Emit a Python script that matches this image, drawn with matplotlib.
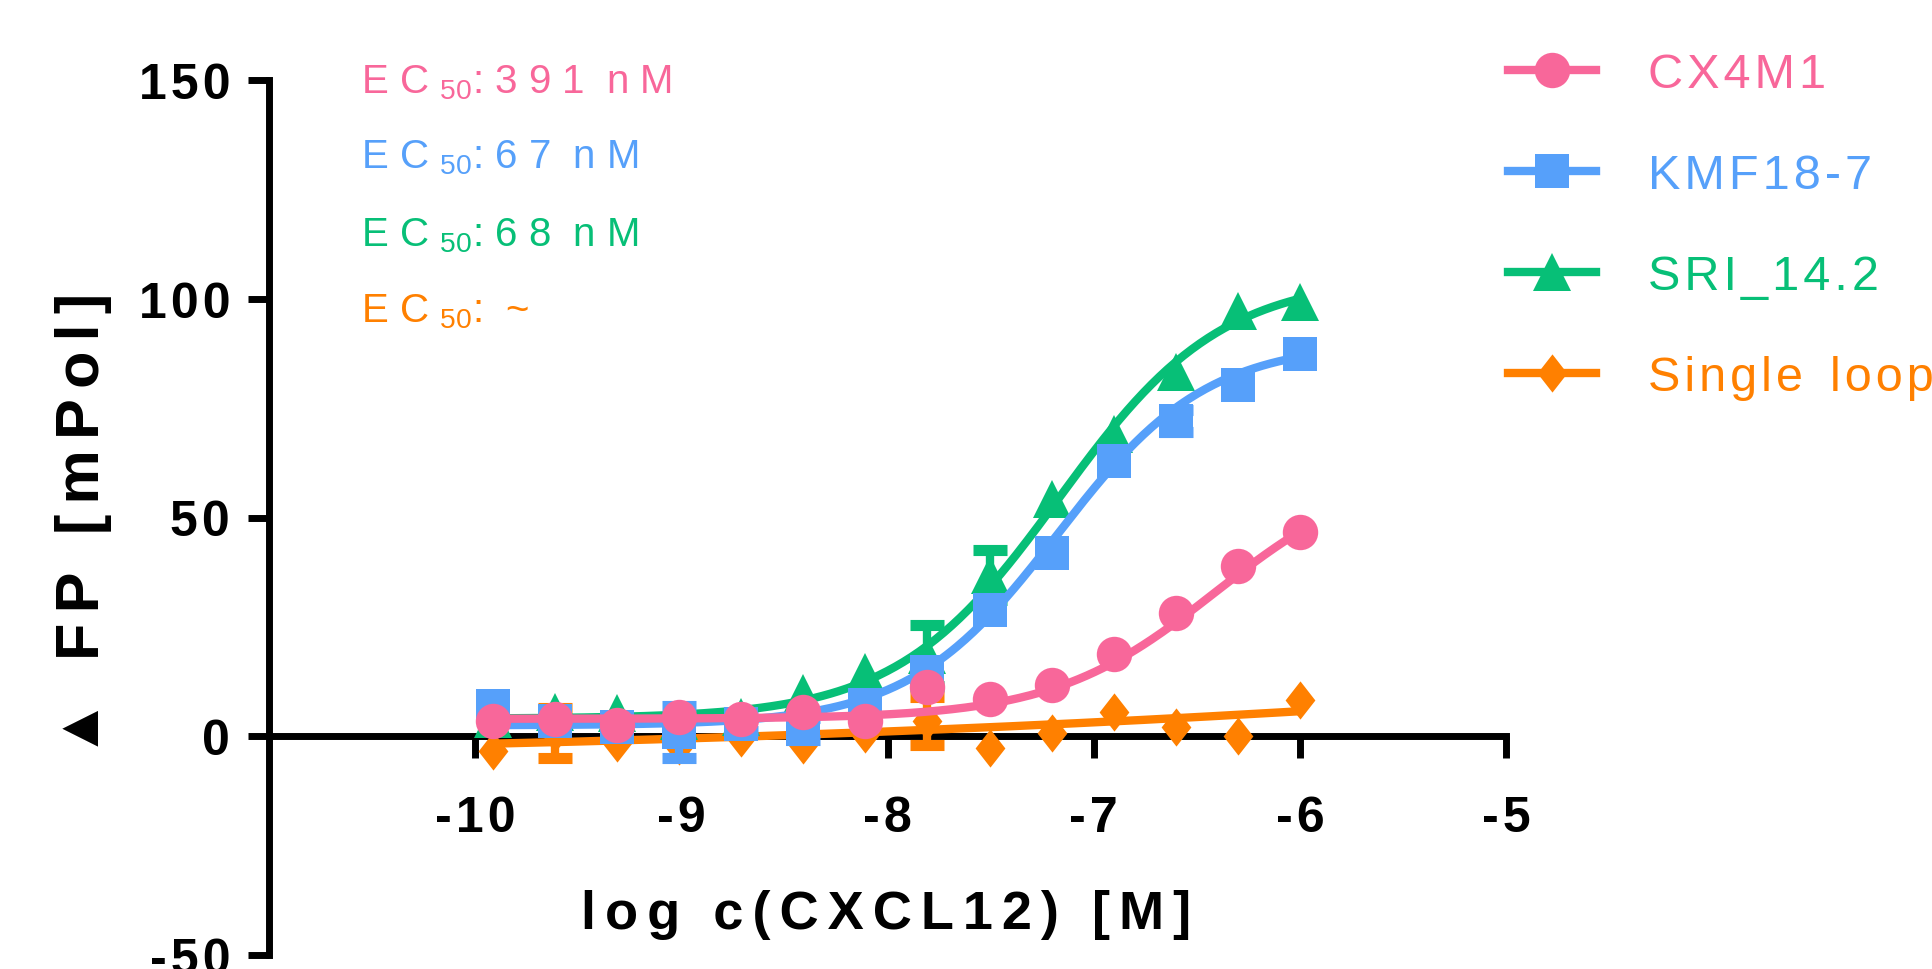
import matplotlib
matplotlib.use("Agg")
import matplotlib.pyplot as plt
import numpy as np


# 2-fold dilution series of CXCL12, log10 of molar concentration
log_conc = np.array([-9.913, -9.612, -9.311, -9.010, -8.709, -8.408, -8.107,
                     -7.806, -7.505, -7.204, -6.903, -6.602, -6.301, -6.000])

# delta FP [mPol], means
cx4m1 = np.array([3.5, 3.9, 2.5, 4.3, 4.0, 5.5, 3.4, 11.3, 8.5, 11.8, 18.7, 28.2, 38.9, 46.6])
kmf18_7 = np.array([7.0, 3.5, 2.1, 1.0, 2.8, 1.7, 7.1, 14.6, 28.9, 41.9, 63.0, 72.0, 80.3, 87.4])
sri_14_2 = np.array([4.0, 5.5, 5.3, 3.5, 4.5, 10.0, 14.6, 18.5, 36.8, 54.2, 69.1, 83.2, 97.3, 99.2])
single_loop = np.array([-3.4, 0.75, -1.5, -2.3, -0.5, -1.9, 0.5, 3.4, -2.7, 0.8, 5.6, 2.1, 0.0, 8.4])

# error bars (SD), only where they show up
cx4m1_err = np.zeros(14)
kmf18_7_err = np.array([0, 0, 0, 6.0, 1.5, 2.5, 0, 0, 0, 0, 0, 2.5, 0, 0])
sri_14_2_err = np.array([0, 0, 0, 0, 0, 0, 0, 7.0, 5.7, 0, 0, 0, 0, 0])
single_loop_err = np.array([0, 5.8, 0, 0, 0, 0, 0, 5.5, 0, 0, 0, 0, 0, 0])

# 4PL fit parameters: bottom, top, logEC50, hill slope
cx4m1_fit = (4.0, 62.0, np.log10(391e-9), 1.1)
kmf18_7_fit = (2.5, 90.0, np.log10(67e-9), 1.2)
sri_14_2_fit = (4.0, 105.0, np.log10(68e-9), 1.1)
single_loop_fit = (-5.2, 36.5, -3.0, 0.15)

names = ["CX4M1", "KMF18-7", "SRI_14.2", "Single loop"]
ec50_labels = ["3 9 1  n M", "6 7  n M", "6 8  n M", " ~"]
colors = ["#F8679A", "#56A0FA", "#07BF77", "#FF8000"]

x_ticks = [-10, -9, -8, -7, -6, -5]
x_tick_labels = ["-10", "-9", "-8", "-7", "-6", "-5"]
y_ticks = [-50, 0, 50, 100, 150]
y_tick_labels = ["-50", "0", "50", "100", "150"]


def four_pl(x, bottom, top, log_ec50, hill):
    return bottom + (top - bottom) / (1 + 10 ** ((log_ec50 - x) * hill))


# the original uses letter spaced text; hair spaces between letters
HS = "\u200a"
WORD = HS * 2 + " " + HS * 2


def spread(text, gap=HS, word_gap=" "):
    return word_gap.join(gap.join(word) for word in text.split(" "))


fonts = ["Liberation Sans", "DejaVu Sans"]
plt.rcParams["font.family"] = fonts
plt.rcParams["mathtext.fontset"] = "custom"
plt.rcParams["mathtext.rm"] = "Liberation Sans"

fig = plt.figure(figsize=(19.33, 9.70), dpi=100)
ax = fig.add_axes([269 / 1933, 14 / 970, (1506 - 269) / 1933, 875 / 970])

# diamond a bit taller than wide
diamond = [(0, 1), (0.78, 0), (0, -1), (-0.78, 0), (0, 1)]
markers = ["o", "s", "^", diamond]
sizes = [25.5, 25, 27, 27.5]
series = [cx4m1, kmf18_7, sri_14_2, single_loop]
errors = [cx4m1_err, kmf18_7_err, sri_14_2_err, single_loop_err]
fits = [cx4m1_fit, kmf18_7_fit, sri_14_2_fit, single_loop_fit]
layer = [6, 5, 4, 3]

x_fit = np.linspace(log_conc.min(), log_conc.max(), 300)
lw = 6

for y, err, fit, c, m, ms, z in zip(series, errors, fits, colors, markers, sizes, layer):
    ax.plot(x_fit, four_pl(x_fit, *fit), color=c, lw=lw, zorder=z, clip_on=False,
            solid_capstyle="butt")
    has_err = err > 0
    if has_err.any():
        ax.errorbar(log_conc[has_err], y[has_err], yerr=err[has_err], fmt="none",
                    ecolor=c, elinewidth=lw, capsize=12, capthick=lw + 2, zorder=z,
                    clip_on=False)
    ax.plot(log_conc, y, linestyle="none", marker=m, markersize=ms, color=c,
            markeredgewidth=0, zorder=z + 0.5, clip_on=False)

ax.set_xlim(-11, -5)
ax.set_ylim(-50, 150)

for side in ["top", "right"]:
    ax.spines[side].set_visible(False)
ax.spines["bottom"].set_position(("data", 0))
for side in ["bottom", "left"]:
    ax.spines[side].set_linewidth(5)
    ax.spines[side].set_zorder(2)

ax.set_xticks(x_ticks, labels=[spread(t) for t in x_tick_labels], fontfamily=fonts,
              fontweight="bold", fontsize=36)
ax.set_yticks(y_ticks, labels=[spread(t) for t in y_tick_labels], fontfamily=fonts,
              fontweight="bold", fontsize=36)
ax.tick_params(axis="x", direction="out", length=16, width=5, pad=26)
ax.tick_params(axis="y", direction="out", length=15, width=5, pad=13)

fig.text(886 / 1933, 1 - 929 / 970,
         spread("log c(CXCL12) [M]", gap=HS * 2, word_gap=WORD),
         ha="center", va="baseline", fontfamily=fonts, fontweight="bold",
         fontsize=39)
fig.text(84 / 1933, 1 - 525 / 970,
         "▲" + WORD + spread("FP [mPol]", gap=HS * 2, word_gap=WORD),
         rotation=90, ha="center", va="center", fontfamily=fonts,
         fontweight="bold", fontsize=44)

ec50_rows = [93, 168, 246, 322]
for label, c, row in zip(ec50_labels, colors, ec50_rows):
    fig.text(361 / 1933, 1 - row / 970, "E C $_{\\mathregular{50}}$: " + label,
             color=c, fontsize=29, va="baseline", ha="left")

handles = [ax.plot([], [], color=c, lw=lw, marker=m, markersize=ms,
                   markeredgewidth=0)[0]
           for c, m, ms in zip(colors, markers, sizes)]
fig.legend(handles, [spread(n, word_gap="  ") for n in names], loc="upper left",
           bbox_to_anchor=(1508 / 1933, 1 - 53 / 970),
           frameon=False, borderaxespad=0, borderpad=0, fontsize=35,
           handlelength=1.81, handletextpad=1.07, labelspacing=1.15,
           numpoints=1, labelcolor="linecolor")

fig.savefig("out.png", dpi=100)
